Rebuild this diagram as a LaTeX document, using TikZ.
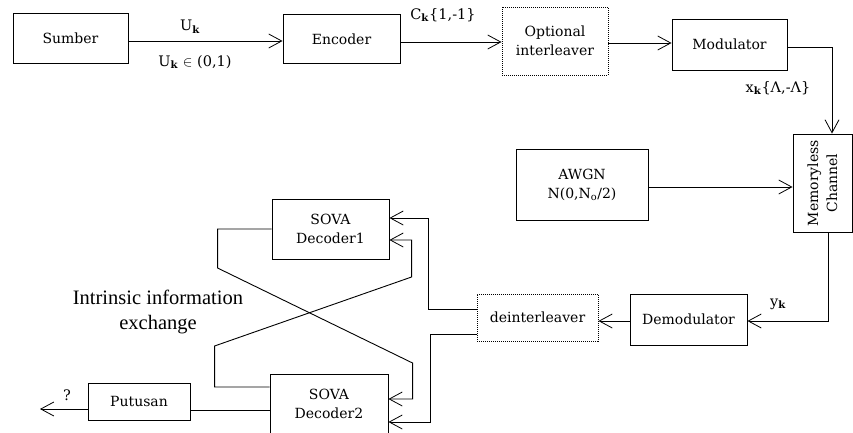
\documentclass[tikz,border=0pt]{standalone}
\usepackage{fontspec}
\setmainfont{DejaVu Serif}
\newfontfamily\tnr{Liberation Serif}
\usetikzlibrary{arrows.meta,positioning}
\tikzset{>={Straight Barb[length=13pt,width=14pt,line width=0.8pt]}}
\tikzset{tekst/.style={inner sep=0pt, align=center, font=\fontsize{14}{19}\selectfont}}
\tikzset{blok/.style={tekst, draw, line width=0.9pt}}
\tikzset{dotblok/.style={blok, dash pattern=on 1pt off 1pt}}
\tikzset{lbl/.style={font=\fontsize{14.5}{17}\selectfont, inner sep=1pt}}
\tikzset{wire/.style={line width=0.9pt}}
\newcommand{\subk}{\textsubscript{\textbf{k}}}

\begin{document}
\begin{tikzpicture}[x=1pt,y=-1pt]
  \clip (0,0) rectangle (853,433);
  % sending side
  \node[blok, minimum width=115pt, minimum height=50pt] (sumber) at (70.5,38) {Sumber};
  \node[blok, minimum width=117pt, minimum height=49pt] (encoder) at (341.5,39) {Encoder};
  \node[dotblok, minimum width=106pt, minimum height=68pt] (interleaver) at (555,41)
  {Optional\\interleaver};
  \node[blok, minimum width=115pt, minimum height=51pt] (modulator) at (729.5,44.5) {Modulator};
  \node[blok, minimum width=59pt, minimum height=98pt] (channel) at (822.5,183) {};
  \node[tekst, rotate=90] (chantext) at (channel) {Memoryless\\Channel};
  \node[blok, minimum width=132pt, minimum height=71pt] (awgn) at (582,184.5)
  {AWGN\\N(0,N\textsubscript{o}/2)};
  % receiving side
  \node[blok, minimum width=117pt, minimum height=51pt] (demod) at (688.5,319.5) {Demodulator};
  \node[dotblok, minimum width=121pt, minimum height=47pt] (deint) at (537.5,317.5) {deinterleaver};
  \node[blok, minimum width=117pt, minimum height=60pt] (dec1) at (330.5,229) {SOVA\\Decoder1};
  \node[blok, minimum width=118pt, minimum height=60pt] (dec2) at (329,404) {SOVA\\Decoder2};
  \node[blok, minimum width=102pt, minimum height=37pt] (putusan) at (139,401.5) {Putusan};
  \coordinate (keluar) at (40,409);

  % labels
  \node[lbl] (uk) at (190,27) {U\subk};
  \node[lbl] (ukin) at (195,62) {U\subk\ $\in$ (0,1)};
  \node[lbl] (ck) at (443,15) {C\subk\{1,-1\}};
  \node[lbl] (xk) at (778,88) {x\subk\{Λ,-Λ\}};
  \node[lbl] (yk) at (778,304) {y\subk};
  \node[lbl] (tanya) at (67,395) {?};
  \node[font=\tnr\fontsize{20.5}{25}\selectfont, align=center] (intrinsic) at (158,312)
  {Intrinsic information\\exchange};

  % connectors
  \draw[wire,->] (sumber.east |- 0,41) -- (encoder.west |- 0,41);
  \draw[wire,->] (encoder.east |- 0,42) -- (interleaver.west |- 0,42);
  \draw[wire,->] (interleaver.east |- 0,43) -- (modulator.west |- 0,43);
  \draw[wire,->] ([yshift=-2.5pt]modulator.east) -| ([xshift=9.5pt]channel.north);
  \draw[wire,->] ([yshift=-2.5pt]awgn.east) -- ([yshift=-2.5pt]awgn.east -| channel.west);
  \draw[wire,->] ([xshift=5.5pt]channel.south) |- ([yshift=-1.5pt]demod.east);
  \draw[wire,->] ([yshift=-1.5pt]demod.west) -- ([yshift=-1.5pt]demod.west -| deint.east);
  \draw[wire,->] ([yshift=8.5pt]deint.west) -- ++(-48,0) |- ([yshift=11pt]dec1.east);
  \draw[wire,->] ([yshift=-16.5pt]deint.west) -- ++(-46,0) |- ([yshift=-18pt]dec2.east);
  \draw[wire,->] (dec1.west) -- ++(-54,0) -- ++(0,39) -- ++(195,95) |- ([yshift=5pt]dec2.east);
  \draw[wire,->] ([yshift=17pt]dec2.west) -- ++(-55,0) -- ++(0,-41) -- ++(197,-69)
  |- ([yshift=-11pt]dec1.east);
  \draw[wire] ([yshift=-6pt]dec2.west) -- ([yshift=-6pt]dec2.west -| putusan.east);
  \draw[wire,->] (putusan.west |- keluar) -- (keluar);
\end{tikzpicture}
\end{document}
